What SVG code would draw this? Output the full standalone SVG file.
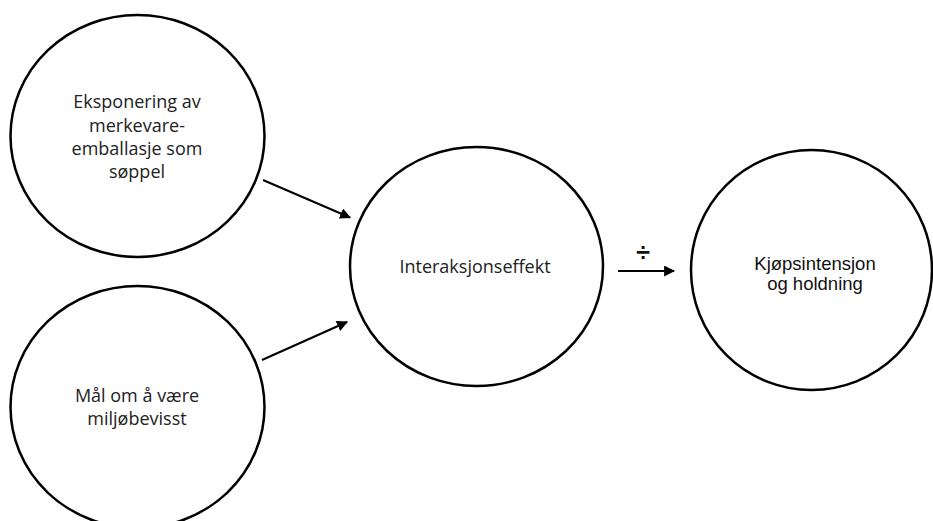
<svg xmlns="http://www.w3.org/2000/svg" width="933" height="521" viewBox="0 0 933 521">
<style>
.node{fill:#fff;stroke:#000;stroke-width:2.5}
.cal{font-family:"Open Sans","Noto Sans",sans-serif;font-size:18px;fill:#222;text-anchor:middle}
.ari{font-family:"Liberation Sans",Arial,sans-serif;font-size:18.5px;fill:#111;text-anchor:middle}
.edge{stroke:#000;stroke-width:2;fill:none;marker-end:url(#ah)}
</style>
<defs>
<marker id="ah" viewBox="0 0 10 10" refX="9" refY="5" markerWidth="5.5" markerHeight="5.5" orient="auto" markerUnits="strokeWidth">
<path d="M0,0 L10,5 L0,10 z" fill="#000"/>
</marker>
</defs>
<rect width="933" height="521" fill="#fff"/>
<g id="node-eksponering">
<ellipse class="node" cx="137.5" cy="136" rx="127" ry="121"/>
<text class="cal" x="137" y="108">Eksponering av</text>
<text class="cal" x="137" y="131.5">merkevare-</text>
<text class="cal" x="137" y="155">emballasje som</text>
<text class="cal" x="137" y="178">søppel</text>
</g>
<g id="node-maal">
<ellipse class="node" cx="137.5" cy="407" rx="127" ry="121"/>
<text class="cal" x="137" y="402">Mål om å være</text>
<text class="cal" x="137" y="425">miljøbevisst</text>
</g>
<g id="node-interaksjon">
<ellipse class="node" cx="476.5" cy="266.5" rx="126.5" ry="119.5"/>
<text class="cal" x="475" y="273">Interaksjonseffekt</text>
</g>
<g id="node-kjop">
<ellipse class="node" cx="811.5" cy="270" rx="120.5" ry="120"/>
<text class="ari" x="815" y="270">Kjøpsintensjon</text>
<text class="ari" x="815" y="289.5">og holdning</text>
</g>
<g id="connectors">
<line class="edge" x1="263" y1="180" x2="350" y2="217.5"/>
<line class="edge" x1="262" y1="360" x2="347" y2="322"/>
<line class="edge" x1="618" y1="271" x2="674" y2="271"/>
<text class="ari" x="643" y="261" style="font-size:25px;font-weight:bold">÷</text>
</g>
</svg>
